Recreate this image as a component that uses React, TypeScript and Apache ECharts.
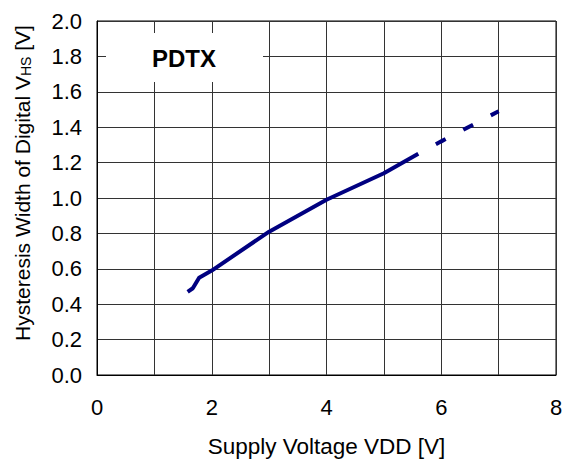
import React, { useEffect, useRef } from "react";
import * as echarts from "echarts";

const solidVdd = [1.58, 1.67, 1.78, 2.0, 3.0, 4.0, 5.0, 5.6];
const solidVhs = [0.47, 0.49, 0.55, 0.59, 0.81, 0.99, 1.14, 1.25];
const dashedVdd = [5.6, 6.0, 7.0];
const dashedVhs = [1.25, 1.32, 1.49];
const xLabeled = [0, 2, 4, 6, 8];
const labelText = "PDTX";

const FONT = "'Liberation Sans', Arial, sans-serif";

export default function App() {
  const ref = useRef<HTMLDivElement>(null);
  useEffect(() => {
    if (!ref.current) return;
    const chart = echarts.init(ref.current, undefined, { renderer: "svg" });
    const solid = solidVdd.map((x, i) => [x, solidVhs[i]]);
    const dashed = dashedVdd.map((x, i) => [x, dashedVhs[i]]);
    chart.setOption({
      animation: false,
      backgroundColor: "#fff",
      grid: {
        left: 97,
        right: 17,
        top: 21,
        bottom: 83,
        show: true,
        borderColor: "#000",
        borderWidth: 1,
      },
      xAxis: {
        type: "value",
        min: 0,
        max: 8,
        interval: 1,
        name: "Supply Voltage VDD [V]",
        nameLocation: "middle",
        nameGap: 60,
        nameTextStyle: { fontFamily: FONT, fontSize: 22.5, color: "#000" },
        axisLine: { show: true, lineStyle: { color: "#000", width: 1 } },
        axisTick: { show: false },
        axisLabel: {
          margin: 21,
          fontFamily: FONT,
          fontSize: 22,
          color: "#000",
          formatter: (v: number) => (xLabeled.includes(v) ? String(v) : ""),
        },
        splitLine: { show: true, lineStyle: { color: "#333", width: 1 } },
      },
      yAxis: {
        type: "value",
        min: 0,
        max: 2,
        interval: 0.2,
        name: "Hysteresis Width of Digital V{sub|HS} [V]",
        nameLocation: "middle",
        nameGap: 64,
        nameTextStyle: {
          fontFamily: FONT,
          fontSize: 21,
          color: "#000",
          padding: [0, 0, 0, 30],
          rich: {
            sub: {
              fontFamily: FONT,
              fontSize: 14,
              color: "#000",
              verticalAlign: "bottom",
            },
          },
        },
        axisLine: { show: true, lineStyle: { color: "#000", width: 1 } },
        axisTick: { show: false },
        axisLabel: {
          margin: 15,
          fontFamily: FONT,
          fontSize: 22,
          color: "#000",
          formatter: (v: number) => v.toFixed(1),
        },
        splitLine: { show: true, lineStyle: { color: "#333", width: 1 } },
      },
      graphic: [
        {
          type: "rect",
          shape: { x: 106, y: 33, width: 157, height: 49 },
          style: { fill: "#fff" },
          z: 10,
        },
        {
          type: "text",
          x: 184,
          y: 58,
          style: {
            text: labelText,
            fontFamily: FONT,
            fontSize: 24,
            fontWeight: "bold",
            fill: "#000",
            align: "center",
            verticalAlign: "middle",
          },
          z: 11,
        },
      ],
      series: [
        {
          type: "line",
          data: solid,
          showSymbol: false,
          symbol: "none",
          lineStyle: { color: "#000080", width: 4, join: "round" },
          z: 5,
        },
        {
          type: "line",
          data: dashed,
          showSymbol: false,
          symbol: "none",
          lineStyle: {
            color: "#000080",
            width: 4,
            type: [11, 20],
            dashOffset: 11,
            cap: "butt",
          },
          z: 5,
        },
      ],
    });
    return () => chart.dispose();
  }, []);
  return (
    <div
      ref={ref}
      style={{ position: "absolute", left: 0, top: 0, width: 573, height: 463 }}
    />
  );
}
